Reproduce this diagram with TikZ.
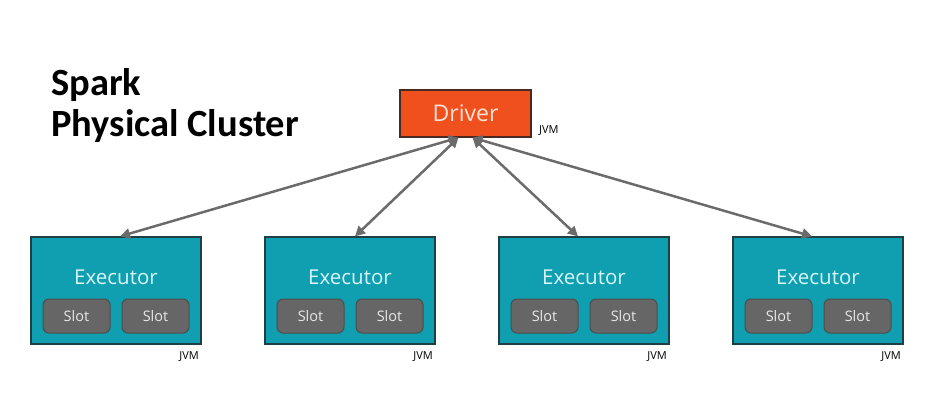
\documentclass[tikz,border=0pt]{standalone}
\usepackage{fontspec}
\setmainfont{Open Sans}
\newfontfamily\titlefont{Carlito}
\usetikzlibrary{arrows.meta}

\definecolor{drvfill}{HTML}{F0501E}
\definecolor{drvline}{HTML}{4A2A20}
\definecolor{drvtext}{HTML}{FDE3D6}
\definecolor{exfill}{HTML}{0F9FB0}
\definecolor{exline}{HTML}{1F3F44}
\definecolor{extext}{HTML}{D8F6F8}
\definecolor{slotfill}{HTML}{666666}
\definecolor{slotline}{HTML}{4D4D4D}
\definecolor{slottext}{HTML}{E8E8E8}
\definecolor{linkgray}{HTML}{6B6B6B}

\begin{document}
\begin{tikzpicture}
[every node/.style={inner sep=0pt},
 driverbox/.style={rectangle, minimum width=131pt, minimum height=47pt, fill=drvfill, draw=drvline, line width=1.25pt, text=drvtext, font=\fontsize{23}{23}\selectfont},
 execbox/.style={rectangle, minimum width=170pt, minimum height=107pt, fill=exfill, draw=exline, line width=1.25pt},
 exectext/.style={anchor=base, text=extext, font=\fontsize{20.5}{20.5}\selectfont},
 slotbox/.style={rectangle, rounded corners=6pt, minimum width=67pt, minimum height=34pt, fill=slotfill, draw=slotline, line width=1pt, text=slottext, font=\fontsize{14.5}{14.5}\selectfont},
 jvm/.style={font=\fontsize{11}{11}\selectfont, text=black},
 link/.style={line width=2.5pt, color=linkgray, {Triangle[length=10pt,width=10pt]}-{Triangle[length=10pt,width=10pt]}}]
\useasboundingbox (0pt,0pt) rectangle (933pt,-403pt);
% title
\node (title) [anchor=north west, align=left, font=\titlefont\bfseries\fontsize{38.5}{41}\selectfont] at (51pt,-68pt) {Spark\\Physical Cluster};
% driver
\node (d) [driverbox] at (465.5pt, -113.5pt) {Driver};
\node (dj) [jvm, anchor=west] at (539pt, -131pt) {JVM};
% executors
\foreach \i/\x in {1/116, 2/350, 3/584, 4/818} {
  \node (e\i) [execbox] at (\x pt, -290.5pt) {};
  \node (e\i t) [exectext] at (\x pt, -284pt) {Executor};
  \node (s\i a) [slotbox] at (\x pt - 39.5pt, -316pt) {Slot};
  \node (s\i b) [slotbox] at (\x pt + 39.5pt, -316pt) {Slot};
  \node (j\i) [jvm, anchor=east] at (\x pt + 83pt, -357pt) {JVM};
}
\draw [link] ([xshift=-7pt]d.south) to ([xshift=4pt]e1.north);
\draw [link] ([xshift=-7pt]d.south) to ([xshift=5pt]e2.north);
\draw [link] ([xshift=7pt]d.south) to ([xshift=-6pt]e3.north);
\draw [link] ([xshift=7pt]d.south) to ([xshift=-6pt]e4.north);
\end{tikzpicture}
\end{document}
